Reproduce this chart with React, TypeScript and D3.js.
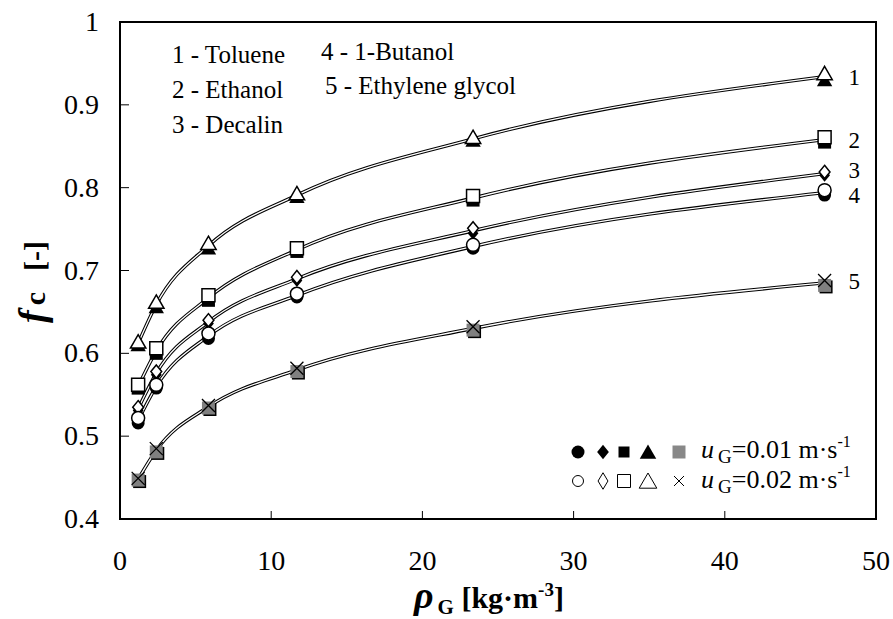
import React from 'react';
import * as d3 from 'd3';

const W = 893, H = 619;
const X0 = 120, X1 = 876, Y0 = 519, Y1 = 22;

// gas density [kg/m3]
const RHO = [1.2, 2.4, 5.85, 11.7, 23.35, 46.6];

// f_c for uG = 0.01 (filled) and uG = 0.02 (open)
const TOLUENE_01 = [0.610, 0.656, 0.727, 0.789, 0.857, 0.930];
const TOLUENE_02 = [0.614, 0.662, 0.733, 0.793, 0.861, 0.938];
const ETHANOL_01 = [0.558, 0.600, 0.664, 0.723, 0.785, 0.855];
const ETHANOL_02 = [0.562, 0.606, 0.670, 0.727, 0.790, 0.861];
const DECALIN_01 = [0.531, 0.574, 0.636, 0.688, 0.745, 0.815];
const DECALIN_02 = [0.535, 0.578, 0.640, 0.692, 0.751, 0.819];
const BUTANOL_01 = [0.516, 0.558, 0.618, 0.668, 0.727, 0.791];
const BUTANOL_02 = [0.522, 0.562, 0.624, 0.672, 0.731, 0.797];
const GLYCOL_01 = [0.447, 0.481, 0.534, 0.578, 0.628, 0.682];
const GLYCOL_02 = [0.449, 0.485, 0.537, 0.582, 0.632, 0.688];

const X_TICKS = [0, 10, 20, 30, 40, 50];
const Y_TICKS = [0.4, 0.5, 0.6, 0.7, 0.8, 0.9, 1];

type Kind = 'tri' | 'sq' | 'dia' | 'circ' | 'gray';

const SERIES: { id: string; kind: Kind; low: number[]; high: number[]; dy: number }[] = [
  { id: '1', kind: 'tri', low: TOLUENE_01, high: TOLUENE_02, dy: 12 },
  { id: '2', kind: 'sq', low: ETHANOL_01, high: ETHANOL_02, dy: 11 },
  { id: '3', kind: 'dia', low: DECALIN_01, high: DECALIN_02, dy: 6 },
  { id: '4', kind: 'circ', low: BUTANOL_01, high: BUTANOL_02, dy: 13 },
  { id: '5', kind: 'gray', low: GLYCOL_01, high: GLYCOL_02, dy: 9 },
];

const NAMES_LEFT = ['1 - Toluene', '2 - Ethanol', '3 - Decalin'];
const NAMES_RIGHT = ['4 - 1-Butanol', '5 - Ethylene glycol'];
const SPEEDS = ['0.01', '0.02'];

const x = d3.scaleLinear().domain([0, 50]).range([X0, X1]);
const y = d3.scaleLinear().domain([0.4, 1]).range([Y0, Y1]);

const FONT = "'Liberation Serif', 'DejaVu Serif', serif";

function shape(kind: string, cx: number, cy: number, s: number): string {
  const p = d3.path();
  const h = s / 2;
  if (kind === 'tri') {
    p.moveTo(cx, cy - h * 1.0);
    p.lineTo(cx + h * 1.1, cy + h * 0.9);
    p.lineTo(cx - h * 1.1, cy + h * 0.9);
    p.closePath();
  } else if (kind === 'sq' || kind === 'gray') {
    p.rect(cx - h, cy - h, s, s);
  } else if (kind === 'dia') {
    p.moveTo(cx, cy - h * 1.1);
    p.lineTo(cx + h * 0.9, cy);
    p.lineTo(cx, cy + h * 1.1);
    p.lineTo(cx - h * 0.9, cy);
    p.closePath();
  } else if (kind === 'loz') {
    p.moveTo(cx, cy - h * 1.5);
    p.lineTo(cx + h * 0.9, cy);
    p.lineTo(cx, cy + h * 1.5);
    p.lineTo(cx - h * 0.9, cy);
    p.closePath();
  } else if (kind === 'circ') {
    p.arc(cx, cy, h, 0, Math.PI * 2);
  } else if (kind === 'cross') {
    p.moveTo(cx - h, cy - h); p.lineTo(cx + h, cy + h);
    p.moveTo(cx + h, cy - h); p.lineTo(cx - h, cy + h);
  }
  return p.toString();
}

function Marker({ kind, cx, cy, filled, s, sw = 1.5, shadow = true }:
  { kind: string; cx: number; cy: number; filled: boolean; s: number; sw?: number; shadow?: boolean }) {
  if (kind === 'gray') {
    if (filled) {
      return (
        <g>
          {shadow && <path d={shape('sq', cx + 1.5, cy + 1.5, s)} fill="#000" />}
          <path d={shape('sq', cx, cy, s)} fill={shadow ? '#808080' : '#888'} />
        </g>
      );
    }
    return <path d={shape('cross', cx, cy, s)} fill="none" stroke="#000" strokeWidth={sw === 1.5 ? 1.3 : sw} />;
  }
  return filled
    ? <path d={shape(kind, cx, cy, s)} fill="#000" />
    : <path d={shape(kind, cx, cy, s)} fill="#fff" stroke="#000" strokeWidth={sw} />;
}

const SIZE: Record<Kind, number> = { tri: 14, sq: 13, dia: 12, circ: 13, gray: 13 };

export default function App() {
  const line = d3.line<[number, number]>()
    .x(d => x(d[0]))
    .y(d => y(d[1]))
    .curve(d3.curveMonotoneX);

  const LEG_FILLED = ['circ', 'dia', 'sq', 'tri', 'gray'];
  const LEG_OPEN = ['circ', 'loz', 'sq', 'tri', 'gray'];
  const LEG_FS = [13, 13, 11, 15, 13];
  const LEG_OS = [11, 11, 13, 16, 10];
  const LEG_X = [578, 603, 624, 648, 679];

  return (
    <svg width={W} height={H} style={{ position: 'absolute', left: 0, top: 0, background: '#fff', fontFamily: FONT }}>
      <rect x={0} y={0} width={W} height={H} fill="#fff" />

      {/* curves */}
      {SERIES.map(s => {
        const pts: [number, number][] = RHO.map((r, i) => [r, (s.low[i] + s.high[i]) / 2]);
        const d = line(pts) || '';
        return (
          <g key={'c' + s.id}>
            <path d={d} fill="none" stroke="#000" strokeWidth={3.4} />
            <path d={d} fill="none" stroke="#fff" strokeWidth={1.3} />
          </g>
        );
      })}

      {/* markers */}
      {SERIES.map(s => (
        <g key={'m' + s.id}>
          {RHO.map((r, i) => (
            <Marker key={'f' + i} kind={s.kind} cx={x(r)} cy={y(s.low[i])} filled={true} s={SIZE[s.kind]} />
          ))}
          {RHO.map((r, i) => (
            <Marker key={'o' + i} kind={s.kind} cx={x(r)} cy={y(s.high[i])} filled={false} s={SIZE[s.kind]} />
          ))}
        </g>
      ))}

      {/* series numbers */}
      {SERIES.map(s => (
        <text key={'n' + s.id} x={x(46.6) + 24} y={y(s.high[5]) + s.dy} fontSize={23}>{s.id}</text>
      ))}

      {/* frame */}
      <rect x={X0} y={Y1} width={X1 - X0} height={Y0 - Y1} fill="none" stroke="#000" strokeWidth={2} />

      {/* ticks */}
      {X_TICKS.map(t => (
        <g key={'xt' + t}>
          <line x1={x(t)} x2={x(t)} y1={Y0} y2={Y0 - 8} stroke="#000" strokeWidth={1} />
          <text x={x(t)} y={570} fontSize={28} textAnchor="middle">{t}</text>
        </g>
      ))}
      {Y_TICKS.map(t => (
        <g key={'yt' + t}>
          <line x1={X0} x2={X0 + 9} y1={y(t)} y2={y(t)} stroke="#000" strokeWidth={1} />
          <text x={99} y={y(t) + 9} fontSize={28} textAnchor="end">{String(t)}</text>
        </g>
      ))}

      {/* axis titles */}
      <text x={414} y={608} fontWeight="bold">
        <tspan fontSize={38} fontStyle="italic">ρ</tspan>
        <tspan fontSize={21} dx={4} dy={6}>G</tspan>
        <tspan fontSize={30} dy={-6}> [kg·m</tspan>
        <tspan fontSize={19} dy={-12}>-3</tspan>
        <tspan fontSize={30} dy={12}>]</tspan>
      </text>
      <text transform="translate(45,323) rotate(-90)" fontWeight="bold">
        <tspan fontSize={38} fontStyle="italic">f</tspan>
        <tspan fontSize={30} dx={5}>c</tspan>
        <tspan fontSize={30} dx={21}>[-]</tspan>
      </text>

      {/* name legend */}
      {NAMES_LEFT.map((n, i) => (
        <text key={n} x={172} y={63 + i * 35} fontSize={25}>{n}</text>
      ))}
      {NAMES_RIGHT.map((n, i) => (
        <text key={n} x={i === 0 ? 321 : 325} y={60 + i * 34} fontSize={25}>{n}</text>
      ))}

      {/* velocity legend */}
      {LEG_FILLED.map((k, i) => (
        <Marker key={'lf' + k} kind={k} cx={LEG_X[i]} cy={452} filled={true} s={LEG_FS[i]} shadow={false} />
      ))}
      {LEG_OPEN.map((k, i) => (
        <Marker key={'lo' + k} kind={k} cx={LEG_X[i]} cy={481} filled={false} s={LEG_OS[i]} sw={1} />
      ))}
      {SPEEDS.map((v, i) => (
        <text key={v} x={701} y={458 + i * 30} fontSize={26}>
          <tspan fontStyle="italic">u</tspan>
          <tspan fontSize={19} dx={4} dy={5}>G</tspan>
          <tspan dy={-5}>={v} m·s</tspan>
          <tspan fontSize={16} dy={-11}>-1</tspan>
        </text>
      ))}
    </svg>
  );
}
